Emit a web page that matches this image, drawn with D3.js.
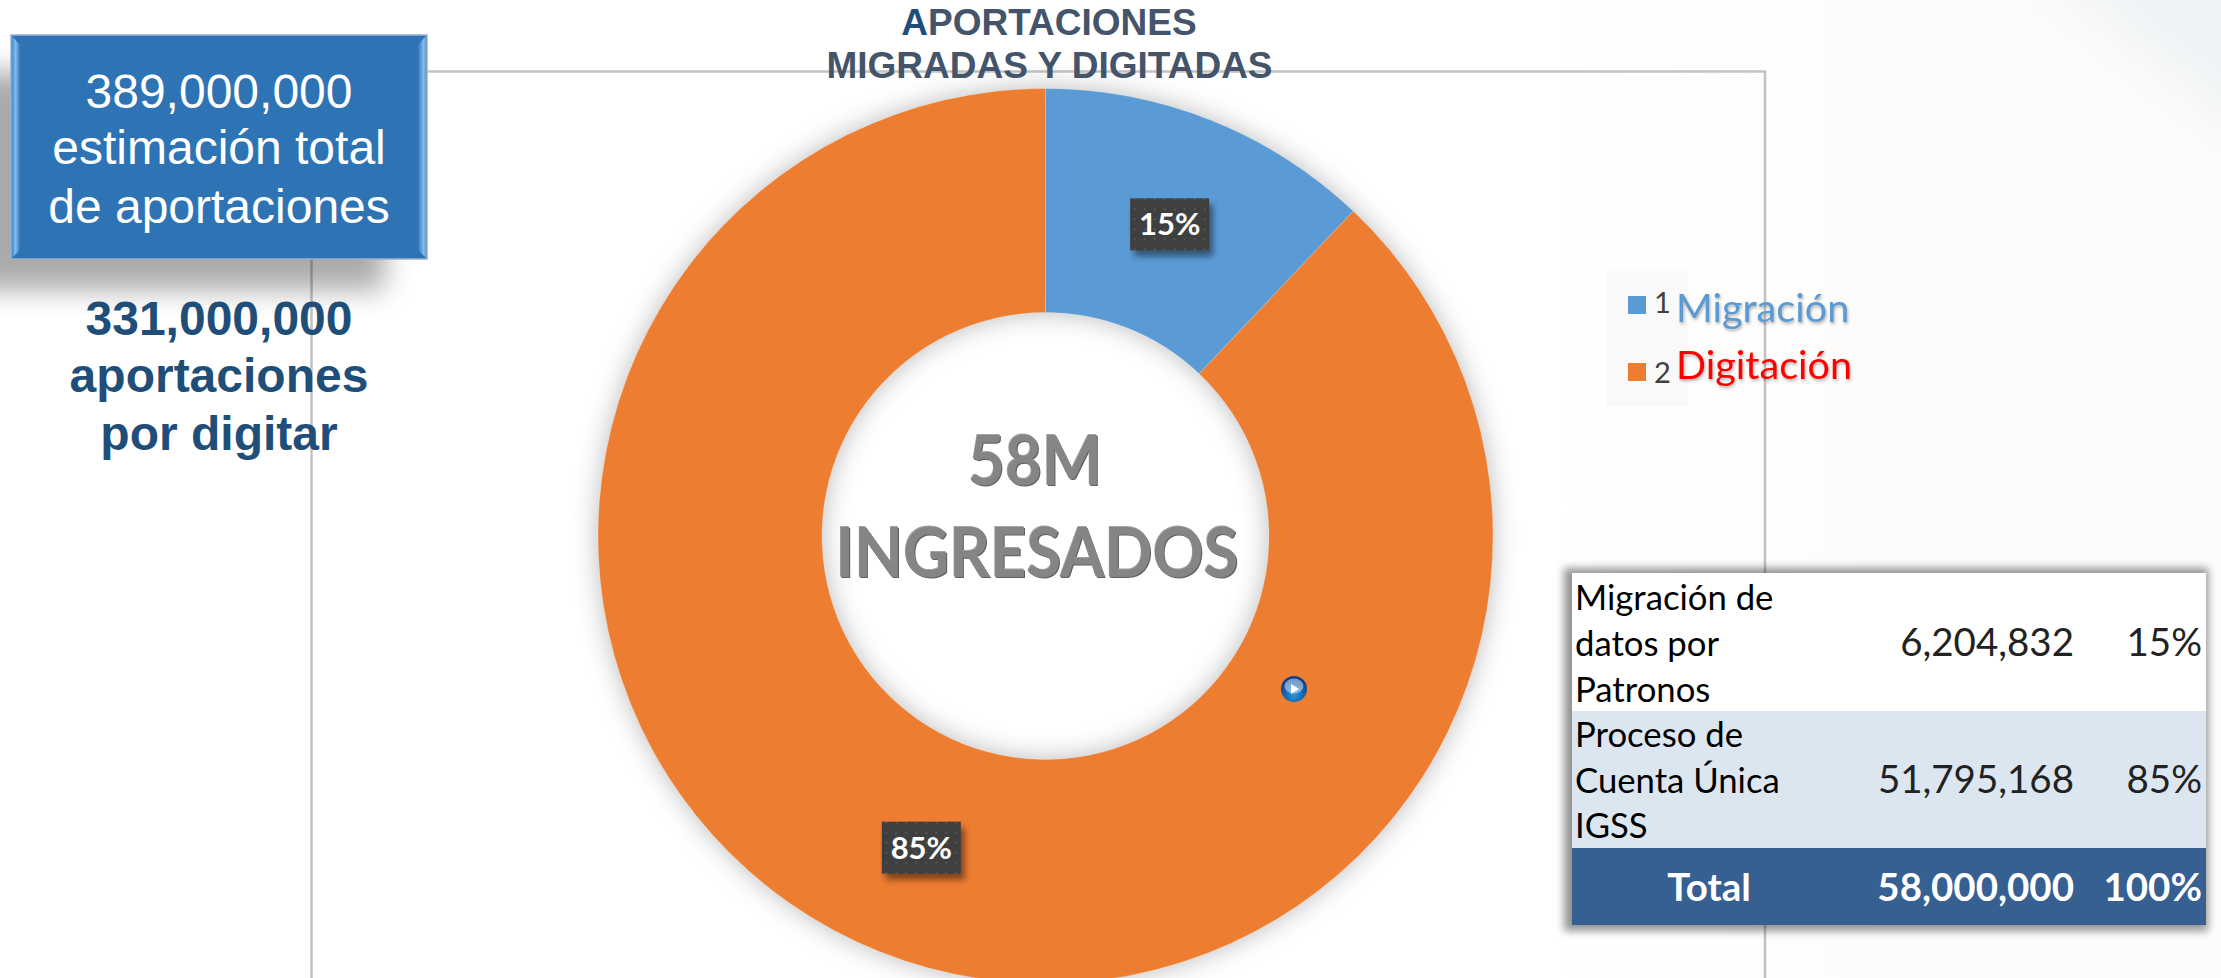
<!DOCTYPE html>
<html><head><meta charset="utf-8">
<script src="https://cdn.jsdelivr.net/npm/d3@7/dist/d3.min.js"></script>
<style>html,body{margin:0;padding:0;background:#fff;overflow:hidden}svg{display:block}</style>
</head><body><svg id="c" width="2221" height="978"></svg>
<script>
// ---- data ----
const categories = ["1", "2"];
const legendNames = ["Migración", "Digitación"];
const sliceValues = [7000000, 51000000];   // slice sizes as drawn in the picture
const sliceLabels = ["15%", "85%"];
const titleLines = ["PORTACIONES", "MIGRADAS Y DIGITADAS"];
const centerLines = ["58M", "INGRESADOS"];
const boxLines = ["389,000,000", "estimación total", "de aportaciones"];
const pendingLines = ["331,000,000", "aportaciones", "por digitar"];
const tableNames = [["Migración de", "datos por", "Patronos"], ["Proceso de", "Cuenta Única", "IGSS"]];
const tableAmounts = ["6,204,832", "51,795,168"];
const tablePercents = ["15%", "85%"];
const tableTotal = ["Total", "58,000,000", "100%"];
const sliceColors = ["#5b9bd5", "#ed7d31"];
const legendColors = ["#5b9bd5", "#ff0000"];

const svg = d3.select("#c");
const defs = svg.append("defs");
const blur = (id, s) => defs.append("filter").attr("id", id)
  .attr("x", "-30%").attr("y", "-30%").attr("width", "160%").attr("height", "160%")
  .append("feGaussianBlur").attr("stdDeviation", s);
blur("b30", 30); blur("b14", 14); blur("b13", 13); blur("b4", 4); blur("b3", 3);
const pat = defs.append("pattern").attr("id", "dots").attr("width", 10).attr("height", 10).attr("patternUnits", "userSpaceOnUse");
pat.append("rect").attr("width", 10).attr("height", 10).attr("fill", "#3f3f3f");
pat.append("rect").attr("x", 4).attr("y", 4).attr("width", 2).attr("height", 2).attr("fill", "#555");
const bg = defs.append("linearGradient").attr("id", "bgw").attr("x1", 0).attr("x2", 1).attr("y1", 0).attr("y2", 0);
bg.append("stop").attr("offset", 0).attr("stop-color", "#fff");
bg.append("stop").attr("offset", .6).attr("stop-color", "#fefcfa");
bg.append("stop").attr("offset", 1).attr("stop-color", "#fdfcfa");
const ball = defs.append("radialGradient").attr("id", "ball").attr("cx", .5).attr("cy", .7).attr("r", .6);
ball.append("stop").attr("offset", 0).attr("stop-color", "#2a9ae0");
ball.append("stop").attr("offset", 1).attr("stop-color", "#0a3f8c");
const bevL = defs.append("linearGradient").attr("id", "bevL");
bevL.append("stop").attr("offset", 0).attr("stop-color", "#4a8ccf");
bevL.append("stop").attr("offset", .45).attr("stop-color", "#82bbf2");
bevL.append("stop").attr("offset", 1).attr("stop-color", "#3377b8");
const bevR = defs.append("linearGradient").attr("id", "bevR");
bevR.append("stop").attr("offset", 0).attr("stop-color", "#3377b8");
bevR.append("stop").attr("offset", .7).attr("stop-color", "#82bbf2");
bevR.append("stop").attr("offset", 1).attr("stop-color", "#5b9ada");

// background
svg.append("rect").attr("width", 2221).attr("height", 978).attr("fill", "#fff");
svg.append("rect").attr("x", 1560).attr("width", 661).attr("height", 978).attr("fill", "url(#bgw)");
svg.append("path").attr("d", "M2000,-60L2290,-60L2290,170Z").attr("fill", "#eff3f5").attr("filter", "url(#b30)");

// chart frame
svg.append("path").attr("d", "M311.5,978V71.5H1765V978").attr("stroke", "#c2c2c2").attr("fill", "none").attr("stroke-width", 2.5);

// donut
const cx = 1045.5, cy = 536, R = 447.5, r = 223.5;
const pie = d3.pie().sort(null).value(d => d)(sliceValues);
const arc = d3.arc().innerRadius(r).outerRadius(R);
const color = d3.scaleOrdinal().domain(categories).range(sliceColors);
const donut = svg.append("g").attr("transform", `translate(${cx},${cy})`);
donut.append("g").attr("filter", "url(#b13)").selectAll("path").data(pie).join("path").attr("d", arc).attr("fill", "#000").attr("opacity", .27);
donut.append("g").selectAll("path").data(pie).join("path").attr("d", arc)
  .attr("fill", (d, i) => color(categories[i])).attr("stroke", "#fff").attr("stroke-opacity", .3).attr("stroke-width", .75);

// data labels
const lw = 79, lh = 52;
const lab = donut.selectAll("g.l").data(pie).join("g").attr("class", "l")
  .attr("transform", d => `translate(${arc.centroid(d)})`);
lab.append("rect").attr("x", -lw / 2 + 4).attr("y", -lh / 2 + 6).attr("width", lw).attr("height", lh).attr("fill", "#000").attr("opacity", .45).attr("filter", "url(#b3)");
lab.append("rect").attr("x", -lw / 2).attr("y", -lh / 2).attr("width", lw).attr("height", lh).attr("fill", "url(#dots)");
lab.append("text").attr("text-anchor", "middle").attr("y", 11).attr("fill", "#fff")
  .style("font", "700 31px Lato").text((d, i) => sliceLabels[i]);

// play icon
const icon = svg.append("g").attr("transform", "translate(1294,689)");
icon.append("circle").attr("r", 13).attr("fill", "url(#ball)");
icon.append("ellipse").attr("cy", -3).attr("rx", 9.5).attr("ry", 7.5).attr("fill", "#fff").attr("opacity", .45);
icon.append("path").attr("d", "M-3,-5L5,0L-3,5Z").attr("fill", "#fff");

// centre text
const centerG = svg.append("g").attr("text-anchor", "middle").style("font", "700 69px Lato");
centerLines.forEach((t, i) => {
  const x = [1035, 1037][i], y = [485, 577][i], len = [134, 403][i];
  const put = (dx, dy, fill) => centerG.append("text").attr("x", x + dx).attr("y", y + dy).attr("fill", fill)
    .attr("textLength", len).attr("lengthAdjust", "spacingAndGlyphs").text(t);
  put(1, 1, "#5f5f5f");
  put(-.6, -.6, "#a2a2a2");
  put(0, 0, "#858585");
});

// title
const title = svg.append("g").attr("text-anchor", "middle").style("font", "700 37px 'Liberation Sans'").attr("fill", "#44546a");
const t1 = title.append("text").attr("x", 1049).attr("y", 35);
t1.append("tspan").attr("fill", "#1f4e79").text("A");
t1.append("tspan").text(titleLines[0]);
title.append("text").attr("x", 1049.5).attr("y", 78).text(titleLines[1]);

// legend
const legend = svg.append("g");
legend.append("rect").attr("x", 1606).attr("y", 271).attr("width", 82).attr("height", 135).attr("fill", "#000").attr("opacity", .02);
const ly = d3.scalePoint().domain(categories).range([305, 372]);
categories.forEach((c, i) => {
  legend.append("rect").attr("x", 1628).attr("y", ly(c) - 9).attr("width", 18).attr("height", 18).attr("fill", sliceColors[i]);
  legend.append("text").attr("x", 1654).attr("y", ly(c) + (i ? 11 : 8)).attr("fill", "#404040").style("font", "29px Lato").text(c);
  legend.append("text").attr("x", 1676).attr("y", [322, 379][i]).attr("fill", legendColors[i])
    .style("font", "39.6px Lato").style("filter", "drop-shadow(1px 2px 1.5px rgba(0,0,0,.3))").text(legendNames[i]);
});

// box
svg.append("rect").attr("x", -40).attr("y", 72).attr("width", 425).attr("height", 218).attr("fill", "#000").attr("opacity", .33).attr("filter", "url(#b14)");
const box = svg.append("g");
box.append("rect").attr("x", 11).attr("y", 35).attr("width", 416).attr("height", 224).attr("fill", "#2e74b5").attr("stroke", "#9cb1cb").attr("stroke-width", 1.5);
box.append("path").attr("d", "M12,36L20,45V250L12,258Z").attr("fill", "url(#bevL)");
box.append("path").attr("d", "M426,36L418,45V250L426,258Z").attr("fill", "url(#bevR)");
const boxT = svg.append("g").attr("text-anchor", "middle").attr("fill", "#fff").style("font", "48px 'Liberation Sans'");
boxLines.forEach((t, i) => boxT.append("text").attr("x", 219).attr("y", [108, 164, 223][i]).text(t));
const penT = svg.append("g").attr("text-anchor", "middle").attr("fill", "#1f4e79").style("font", "700 48px 'Liberation Sans'");
pendingLines.forEach((t, i) => penT.append("text").attr("x", 219).attr("y", [335, 392, 450][i]).text(t));

// table
const tx0 = 1572, tx1 = 2206, rowY = [573, 711, 848, 925];
svg.append("rect").attr("x", tx0 - 8).attr("y", rowY[0] - 5).attr("width", tx1 - tx0 + 10).attr("height", rowY[3] - rowY[0] + 11).attr("fill", "#000").attr("opacity", .42).attr("filter", "url(#b4)");
const rowFill = ["#fff", "#dce6f1", "#366092"];
rowFill.forEach((f, i) => svg.append("rect").attr("x", tx0).attr("y", rowY[i]).attr("width", tx1 - tx0).attr("height", rowY[i + 1] - rowY[i]).attr("fill", f));
const table = svg.append("g");
const nameY = [[610, 656, 702], [747, 793, 838]];
tableNames.forEach((lines, i) => {
  lines.forEach((t, j) => table.append("text").attr("x", 1575).attr("y", nameY[i][j]).attr("fill", "#000").style("font", "34.7px Lato").text(t));
  table.append("text").attr("x", 2074).attr("y", nameY[i][1]).attr("text-anchor", "end").attr("fill", "#222").style("font", "38.5px Lato").text(tableAmounts[i]);
  table.append("text").attr("x", 2202).attr("y", nameY[i][1]).attr("text-anchor", "end").attr("fill", "#222").style("font", "38.5px Lato").text(tablePercents[i]);
});
const totalG = svg.append("g").attr("fill", "#fff").style("font", "700 38.5px Lato");
totalG.append("text").attr("x", 1709).attr("y", 901).attr("text-anchor", "middle").text(tableTotal[0]);
totalG.append("text").attr("x", 2074).attr("y", 901).attr("text-anchor", "end").text(tableTotal[1]);
totalG.append("text").attr("x", 2202).attr("y", 901).attr("text-anchor", "end").text(tableTotal[2]);
</script></body></html>
